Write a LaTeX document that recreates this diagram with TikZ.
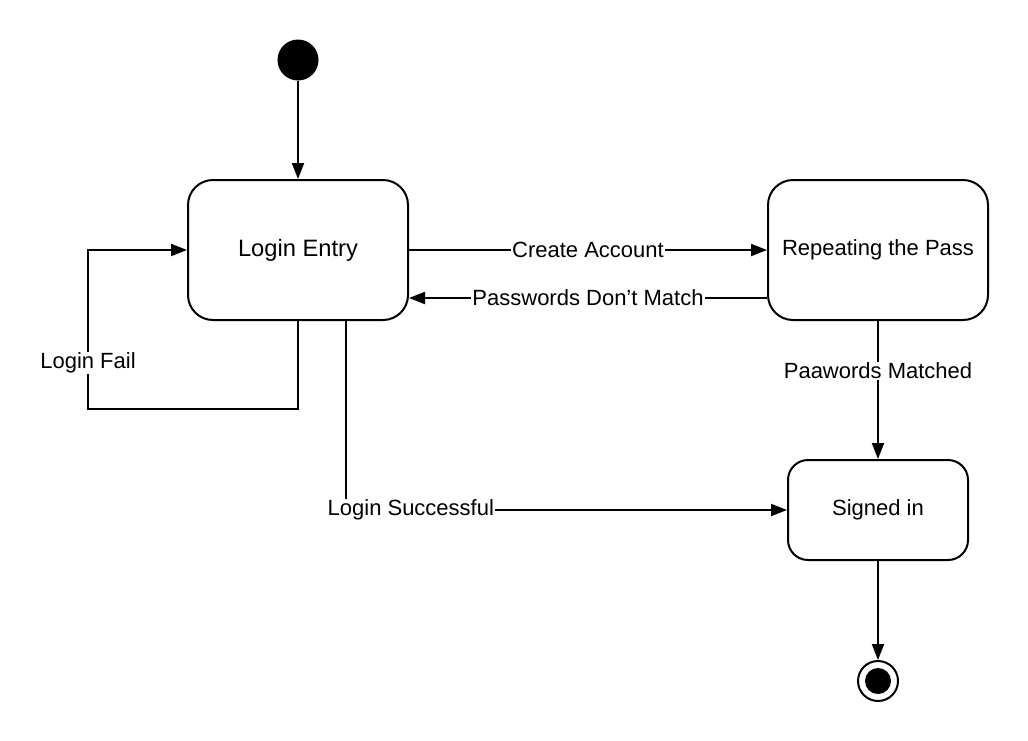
\documentclass[tikz,border=0pt]{standalone}
\usepackage{fontspec}
\setmainfont{Liberation Sans}
\usetikzlibrary{arrows.meta,calc}
\begin{document}
\begin{tikzpicture}[x=1pt,y=-1pt,
  state/.style={draw,line width=2pt,rounded corners=25pt,inner sep=0pt,font=\fontsize{22}{26}\selectfont},
  conn/.style={line width=2pt,-{Triangle[length=16pt,width=12pt]}},
  lbl/.style={fill=white,inner sep=1pt,font=\fontsize{22}{26}\selectfont}]
\useasboundingbox (0,0) rectangle (1028,740);
\node[circle,fill=black,minimum size=41pt,inner sep=0pt] (start) at (298,60) {};
\node[state,minimum width=220pt,minimum height=140pt,font=\fontsize{23.7}{28}\selectfont] (login) at (298,250) {Login Entry};
\node[state,minimum width=220pt,minimum height=140pt] (repeat) at (878,250) {Repeating the Pass};
\node[state,rounded corners=20pt,minimum width=180pt,minimum height=100pt] (signed) at (878,510) {Signed in};
\node[circle,draw,line width=2pt,minimum size=40pt,inner sep=0pt] (end) at (878,681) {};
\node[circle,fill=black,minimum size=26pt,inner sep=0pt] (endin) at (878,681) {};
\coordinate (failc1) at (298,409);
\coordinate (failc2) at (88,409);
\coordinate (failc3) at (88,250);
\coordinate (succc) at (346,510);
\draw[conn] (start) -- (login.north);
\draw[conn] (login.east) -- node[lbl] {Create Account} (repeat.west);
\draw[conn] ([yshift=-48pt]repeat.west) -- node[lbl] {Passwords Don’t Match} ([yshift=-48pt]login.east);
\draw[conn] (login.south) -- (failc1) -- (failc2) -- node[lbl,pos=0.29] {Login Fail} (failc3) -- (login.west);
\draw[conn] ([xshift=48pt]login.south) -- (succc) -- node[lbl,pos=0.147] {Login Successful} (signed.west);
\draw[conn] (repeat.south) -- node[lbl,pos=0.36] {Paawords Matched} (signed.north);
\draw[conn] (signed.south) -- (end.north);
\end{tikzpicture}
\end{document}
